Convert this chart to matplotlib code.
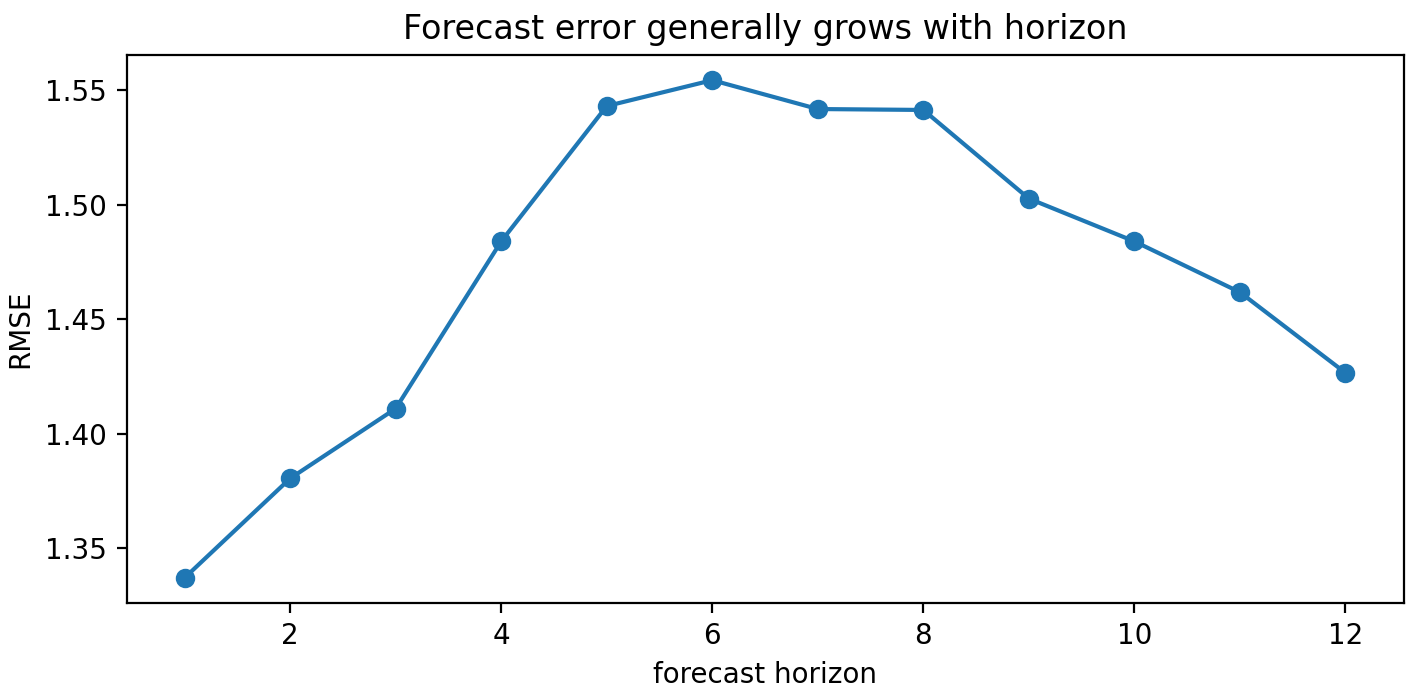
import matplotlib.pyplot as plt

horizons = [1, 2, 3, 4, 5, 6, 7, 8, 9, 10, 11, 12]
rmse = [1.3370, 1.3804, 1.4109, 1.4839, 1.5430, 1.5543,
        1.5417, 1.5413, 1.5026, 1.4839, 1.4617, 1.4265]

fig, ax = plt.subplots(figsize=(7.11, 3.5), dpi=200)
ax.plot(horizons, rmse, marker='o', color='#1f77b4')
ax.set_title('Forecast error generally grows with horizon')
ax.set_xlabel('forecast horizon')
ax.set_ylabel('RMSE')
fig.subplots_adjust(left=0.089, right=0.987, top=0.921, bottom=0.139)
fig.savefig('out.png')
